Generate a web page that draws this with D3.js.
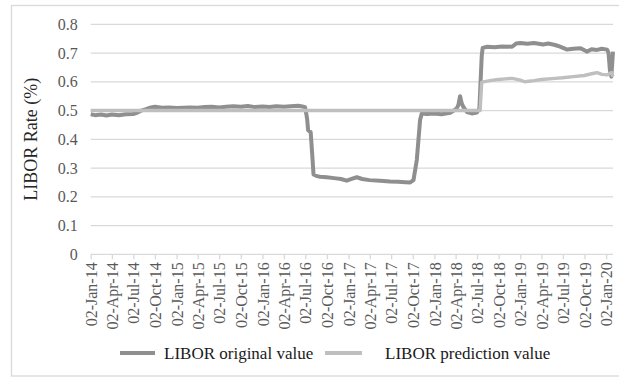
<!DOCTYPE html>
<html>
<head>
<meta charset="utf-8">
<script src="https://cdn.jsdelivr.net/npm/d3@7/dist/d3.min.js"></script>
<style>
  html, body { margin: 0; padding: 0; background: #fff; }
  svg { display: block; }
</style>
</head>
<body>
<svg id="chart" width="619" height="378"></svg>
<script>
// LIBOR original values (daily series, sampled)
const originalDates = [
  "2014-01-02","2014-01-20","2014-02-15","2014-03-10","2014-04-02","2014-05-01","2014-06-01","2014-07-01",
  "2014-07-18","2014-08-05","2014-08-25","2014-09-15","2014-10-02","2014-11-01","2014-12-01","2015-01-02",
  "2015-02-01","2015-03-01","2015-04-02","2015-05-01","2015-06-01","2015-07-02","2015-08-01","2015-09-01",
  "2015-10-02","2015-11-01","2015-12-01","2016-01-02","2016-02-01","2016-03-01","2016-04-02","2016-05-01",
  "2016-06-01","2016-06-20","2016-07-01","2016-07-06","2016-07-10","2016-07-14","2016-07-25","2016-08-02",
  "2016-08-06","2016-08-20","2016-09-03","2016-10-01","2016-11-01","2016-12-01","2016-12-25","2017-01-15",
  "2017-02-06","2017-03-01","2017-04-01","2017-05-16","2017-06-27","2017-08-01","2017-09-01","2017-09-21",
  "2017-10-05","2017-10-19","2017-11-02","2017-11-09","2017-12-01","2018-01-02","2018-02-01","2018-03-10",
  "2018-03-25","2018-04-07","2018-04-14","2018-04-21","2018-04-28","2018-05-05","2018-05-20","2018-06-10",
  "2018-07-01","2018-07-08","2018-07-12","2018-07-22","2018-07-26","2018-08-15","2018-09-15","2018-10-15",
  "2018-11-28","2018-12-15","2019-01-02","2019-02-01","2019-03-01","2019-04-09","2019-05-01","2019-05-30",
  "2019-06-20","2019-07-20","2019-08-15","2019-09-15","2019-10-12","2019-11-01","2019-11-24","2019-12-15",
  "2020-01-06","2020-01-12","2020-01-18","2020-01-24","2020-01-31"
];
const originalValues = [
  0.487,0.484,0.486,0.483,0.486,0.484,0.487,0.488,
  0.492,0.500,0.505,0.511,0.513,0.510,0.511,0.509,
  0.510,0.511,0.510,0.512,0.513,0.511,0.513,0.515,
  0.513,0.516,0.512,0.514,0.512,0.515,0.513,0.515,
  0.517,0.514,0.512,0.490,0.470,0.432,0.425,0.330,
  0.278,0.272,0.270,0.268,0.265,0.262,0.256,0.262,
  0.268,0.262,0.258,0.256,0.253,0.252,0.251,0.250,
  0.258,0.328,0.467,0.490,0.488,0.490,0.487,0.492,
  0.500,0.508,0.520,0.550,0.525,0.513,0.495,0.490,
  0.493,0.502,0.505,0.690,0.718,0.722,0.720,0.723,
  0.722,0.733,0.735,0.732,0.735,0.730,0.733,0.728,
  0.722,0.712,0.715,0.717,0.705,0.713,0.711,0.715,
  0.712,0.700,0.640,0.618,0.705
];

// LIBOR prediction values
const predictionDates = [
  "2014-01-02","2015-01-02","2016-01-02","2017-01-02","2018-01-02","2018-07-15","2018-07-22","2018-07-29",
  "2018-09-01","2018-10-01","2018-11-01","2018-11-28","2019-01-02","2019-01-20","2019-03-01","2019-04-01",
  "2019-05-30","2019-07-01","2019-08-15","2019-10-01","2019-11-01","2019-11-24","2019-12-15","2020-01-06",
  "2020-01-25","2020-01-31"
];
const predictionValues = [
  0.500,0.500,0.500,0.500,0.500,0.500,0.598,0.600,
  0.605,0.608,0.610,0.612,0.606,0.600,0.604,0.608,
  0.612,0.614,0.618,0.622,0.628,0.632,0.626,0.624,
  0.632,0.618
];

// Axis ticks
const xTickDates = [
  "2014-01-02","2014-04-02","2014-07-02","2014-10-02","2015-01-02","2015-04-02","2015-07-02","2015-10-02",
  "2016-01-02","2016-04-02","2016-07-02","2016-10-02","2017-01-02","2017-04-02","2017-07-02","2017-10-02",
  "2018-01-02","2018-04-02","2018-07-02","2018-10-02","2019-01-02","2019-04-02","2019-07-02","2019-10-02",
  "2020-01-02"
];
const yTicks = [0, 0.1, 0.2, 0.3, 0.4, 0.5, 0.6, 0.7, 0.8];

const seriesNames = ["LIBOR original value", "LIBOR prediction value"];
const axisTitle = "LIBOR Rate (%)";

const parse = d3.utcParse("%Y-%m-%d");
const fmt = d3.utcFormat("%d-%b-%y");
const FONT = '"Liberation Serif"';

const svg = d3.select("#chart");
const W = 619, H = 378;
const m = { left: 90.7, right: 6, top: 24.3, bottom: 123.7 };

svg.append("rect").attr("width", W).attr("height", H).attr("fill", "#fff");
svg.append("rect")
  .attr("x", 11.5).attr("y", 5.5).attr("width", 620).attr("height", 370.5)
  .attr("fill", "none").attr("stroke", "#d9d9d9").attr("stroke-width", 1.3);

const x = d3.scaleUtc()
  .domain([parse("2014-01-02"), parse("2020-01-31")])
  .range([m.left, W - m.right]);
const y = d3.scaleLinear().domain([0, 0.8]).range([H - m.bottom, m.top]);

// horizontal gridlines
svg.append("g").selectAll("line").data(yTicks.filter(d => d > 0)).join("line")
  .attr("x1", x.range()[0]).attr("x2", x.range()[1])
  .attr("y1", d => y(d)).attr("y2", d => y(d))
  .attr("stroke", "#d9d9d9").attr("stroke-width", 1.3);

// y axis labels
const yAxis = d3.axisLeft(y).tickValues(yTicks).tickSize(0).tickPadding(13)
  .tickFormat(d => d === 0 ? "0" : d3.format(".1f")(d));
const gy = svg.append("g").attr("transform", `translate(${m.left},0)`).call(yAxis);
gy.select(".domain").remove();
gy.selectAll("text").style("font-family", FONT).attr("font-size", 16).attr("fill", "#595959");

// x axis
const xAxis = d3.axisBottom(x).tickValues(xTickDates.map(parse)).tickSize(5).tickPadding(7)
  .tickFormat(fmt);
const gx = svg.append("g").attr("transform", `translate(0,${y(0)})`).call(xAxis);
gx.select(".domain").attr("stroke", "#d9d9d9").attr("stroke-width", 1.3)
  .attr("d", `M${x.range()[0]},0H${x.range()[1]}`);
gx.selectAll(".tick line").attr("stroke", "#d9d9d9").attr("stroke-width", 1.3);
gx.selectAll("text")
  .style("font-family", FONT).attr("font-size", 16).attr("fill", "#595959")
  .attr("text-anchor", "end")
  .attr("transform", "rotate(-90)")
  .attr("x", -8).attr("y", 0).attr("dy", "0.35em");

// axis title
svg.append("text")
  .attr("transform", `translate(37,${(y(0) + y(0.8)) / 2}) rotate(-90)`)
  .attr("text-anchor", "middle")
  .style("font-family", FONT).attr("font-size", 18).attr("fill", "#262626")
  .text(axisTitle);

// series lines
const line = d3.line().x(d => x(d[0])).y(d => y(d[1]));
const origData = originalDates.map((d, i) => [parse(d), originalValues[i]]);
const predData = predictionDates.map((d, i) => [parse(d), predictionValues[i]]);

const colors = ["#8f8f8f", "#bfbfbf"];

svg.append("path").datum(origData)
  .attr("d", line).attr("fill", "none")
  .attr("stroke", colors[0]).attr("stroke-width", 4).attr("stroke-linejoin", "round");
svg.append("path").datum(predData)
  .attr("d", line).attr("fill", "none")
  .attr("stroke", colors[1]).attr("stroke-width", 3.4).attr("stroke-linejoin", "round");

// legend
const legend = [
  { name: seriesNames[0], color: colors[0], x1: 120, x2: 155, tx: 164 },
  { name: seriesNames[1], color: colors[1], x1: 325, x2: 362, tx: 385 }
];
const lg = svg.append("g");
legend.forEach(l => {
  lg.append("line").attr("x1", l.x1).attr("x2", l.x2).attr("y1", 353).attr("y2", 353)
    .attr("stroke", l.color).attr("stroke-width", 4);
  lg.append("text").attr("x", l.tx).attr("y", 353).attr("dy", "0.35em")
    .style("font-family", FONT).attr("font-size", 17).attr("fill", "#1a1a1a")
    .text(l.name);
});
</script>
</body>
</html>
